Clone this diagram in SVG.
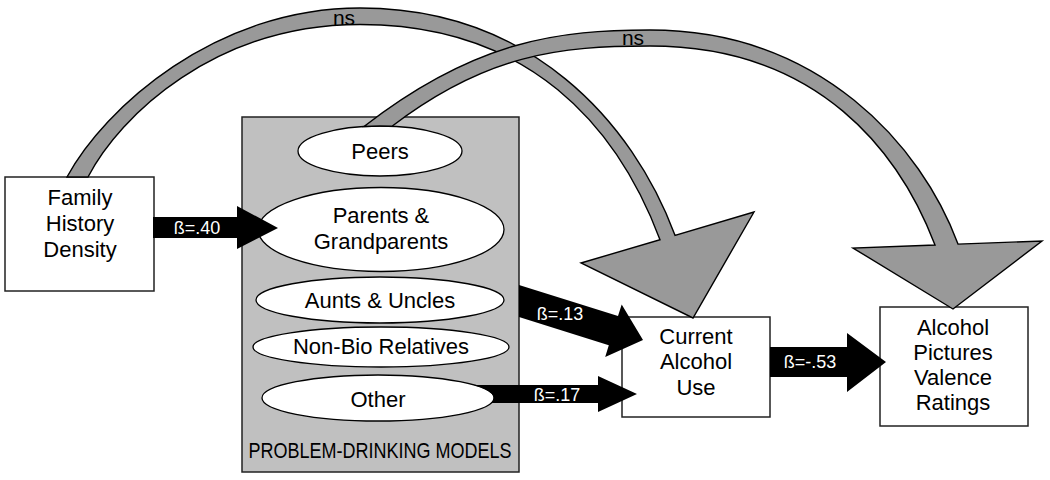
<svg xmlns="http://www.w3.org/2000/svg" width="1050" height="480" viewBox="0 0 1050 480">
<style>
  .box{fill:#ffffff;stroke:#222222;stroke-width:1.5}
  .pd{fill:#c0c0c0;stroke:#222222;stroke-width:1.5}
  .ell{fill:#ffffff;stroke:#000000;stroke-width:1.3}
  .t{font-family:"Liberation Sans",Arial,sans-serif;font-size:22px;fill:#000000;text-anchor:middle}
  .pdl{font-family:"Liberation Sans",Arial,sans-serif;font-size:22px;fill:#000000;text-anchor:middle}
  .ns{font-family:"Liberation Sans",Arial,sans-serif;font-size:21px;fill:#000000;text-anchor:middle}
  .b{font-family:"Liberation Sans",Arial,sans-serif;font-size:18px;fill:#ffffff;text-anchor:middle}
  .arc{fill:#999999;stroke:#000000;stroke-width:1.4;stroke-linejoin:miter}
  .blk{fill:#000000;stroke:none}
</style>
<g id="problem-drinking-models">
  <rect class="pd" x="242" y="117" width="277" height="355"/>
  <text class="pdl" x="380" y="458" textLength="263" lengthAdjust="spacingAndGlyphs">PROBLEM-DRINKING MODELS</text>
</g>
<g id="peers">
  <ellipse class="ell" cx="380" cy="151" rx="82" ry="25"/>
  <text class="t" x="380" y="159">Peers</text>
</g>
<g id="parents">
  <ellipse class="ell" cx="381" cy="229.5" rx="123" ry="42"/>
  <text class="t" x="381" y="223">Parents &amp;</text>
  <text class="t" x="381" y="249">Grandparents</text>
</g>
<g id="aunts">
  <ellipse class="ell" cx="380" cy="300" rx="124" ry="23"/>
  <text class="t" x="380" y="308">Aunts &amp; Uncles</text>
</g>
<g id="nonbio">
  <ellipse class="ell" cx="381" cy="347" rx="128" ry="20"/>
  <text class="t" x="381" y="354">Non-Bio Relatives</text>
</g>
<g id="other">
  <ellipse class="ell" cx="378" cy="398" rx="116" ry="23"/>
  <text class="t" x="378" y="407">Other</text>
</g>
<g id="family-history">
  <rect class="box" x="5" y="177" width="149" height="114"/>
  <text class="t" x="80" y="205">Family</text>
  <text class="t" x="80" y="231">History</text>
  <text class="t" x="80" y="257">Density</text>
</g>
<g id="current-use">
  <rect class="box" x="622" y="317" width="148" height="100"/>
  <text class="t" x="696" y="344">Current</text>
  <text class="t" x="696" y="369">Alcohol</text>
  <text class="t" x="696" y="395">Use</text>
</g>
<g id="valence">
  <rect class="box" x="880" y="307" width="148" height="119"/>
  <text class="t" x="953" y="335">Alcohol</text>
  <text class="t" x="953" y="360">Pictures</text>
  <text class="t" x="953" y="385">Valence</text>
  <text class="t" x="953" y="410">Ratings</text>
</g>
<g id="connectors">
  <path class="arc" d="M67,177 C104.5,108 215,8 360,8 C530,8 632.5,121.2 675,235.3 L754,212 L693,318 L581,263 L660,239.7 C617.5,126.8 530,24.5 360,24.5 C215,24.5 119.5,116 88,177 Z"/>
  <text class="ns" x="344" y="25">ns</text>
  <path class="arc" d="M364,126.5 C475.6,39.8 560,30 650,30 C820,30 921.8,146 958,244.1 L1042,241 L953,309 L853,248 L935,245 C900.2,154 820,46 650,46 C560,46 486.4,54.2 392,126.3 A82,25 0 0 0 364,126.5 Z"/>
  <text class="ns" x="633" y="45">ns</text>
  <polygon class="blk" points="153,217 237,217 237,206 278,228 237,249 237,238 153,238"/>
  <text class="b" x="197" y="234">ß=.40</text>
  <polygon class="blk" points="519,285 618,316.1 621.7,304.5 643,340 605.2,356.9 608.8,345.3 519,317"/>
  <text class="b" x="560" y="320">ß=.13</text>
  <path class="blk" d="M473.7,385 L598,385 L598,376 L637,394 L598,412 L598,403 L491,403 A116,23 0 0 0 473.7,385 Z"/>
  <text class="b" x="557" y="401">ß=.17</text>
  <polygon class="blk" points="770,347 847,347 847,333 886,362 847,392 847,377 770,377"/>
  <text class="b" x="810" y="368">ß=-.53</text>
</g>
</svg>
